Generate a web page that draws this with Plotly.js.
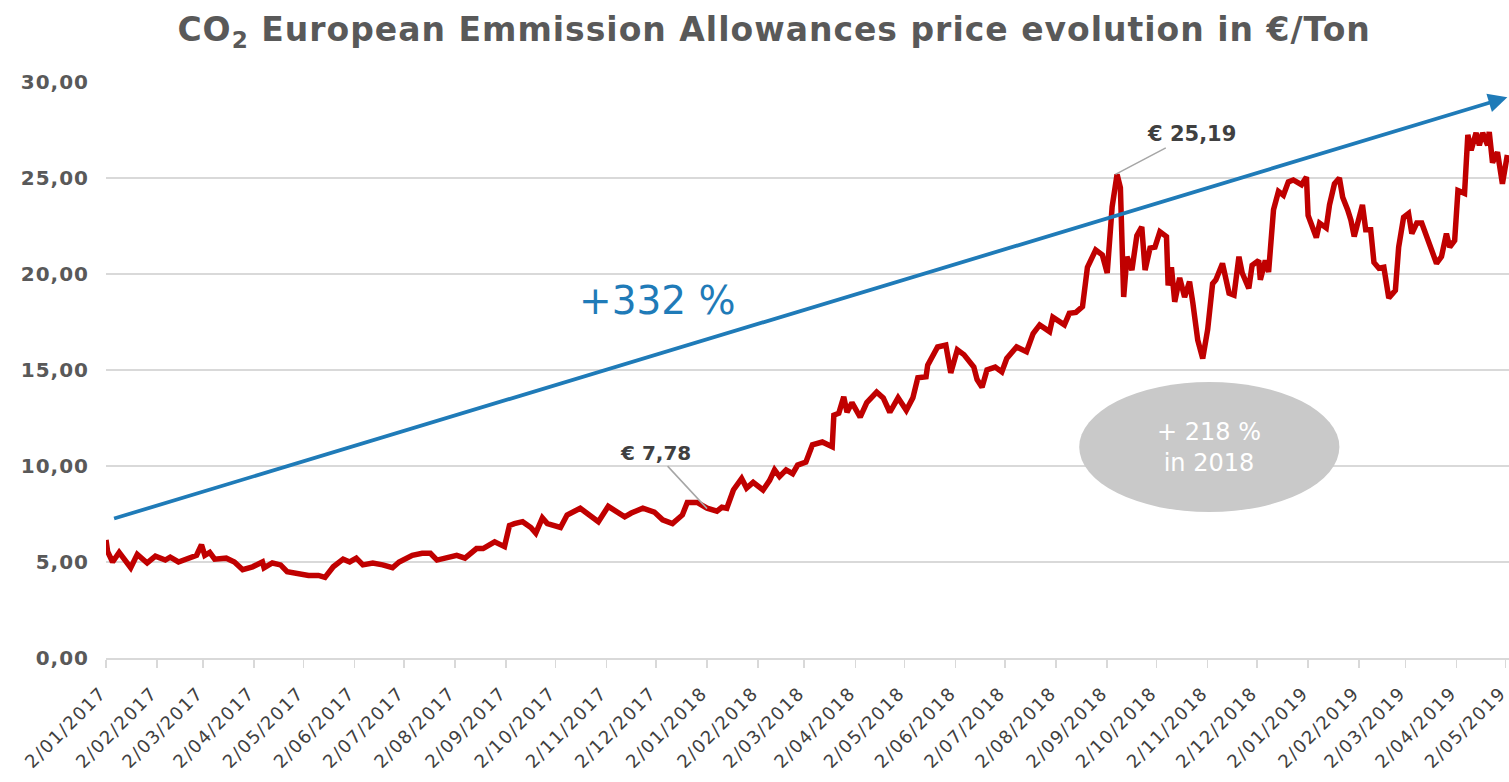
<!DOCTYPE html>
<html>
<head>
<meta charset="utf-8">
<script src="https://cdn.plot.ly/plotly-3.0.1.min.js"></script>
<style>
html,body{margin:0;padding:0;background:#fff;}
#chart{width:1509px;height:782px;}
#chart .xtick text{letter-spacing:1.5px;}
#chart .ytick text{letter-spacing:1px;}
#chart .gtitle{letter-spacing:1px;}
</style>
</head>
<body>
<div id="chart"></div>
<script>
// Days since 2 Jan 2017
const dayOffsets = [0,1,4,8,15,19,25,30,36,39,44,51,55,58,60,63,66,73,78,83,89,95,96,101,106,110,118,123,129,133,138,144,148,152,156,162,168,174,178,186,192,197,201,207,213,218,225,229,236,242,245,248,253,258,261,265,268,276,280,288,293,299,305,309,315,319,326,333,338,344,350,353,359,365,371,374,377,381,386,389,393,399,403,406,409,413,417,420,425,429,435,441,442,445,448,450,453,458,462,468,472,476,481,486,490,493,498,499,505,510,513,517,521,527,529,532,535,540,544,547,553,559,563,567,573,575,582,585,589,593,596,601,605,608,611,614,616,618,620,623,626,629,631,634,637,640,644,645,647,649,652,655,658,660,663,666,669,672,674,678,682,685,688,690,694,696,700,701,704,706,709,712,715,718,721,726,729,730,733,735,737,741,743,746,749,751,754,756,758,761,763,765,768,770,773,776,779,783,785,788,791,793,796,799,803,808,811,814,816,819,821,825,827,829,832,834,836,839,840,842,845,848,851];
const prices = [6.15,5.54,5.0,5.5,4.7,5.4,4.95,5.3,5.1,5.25,5.0,5.2,5.35,5.9,5.35,5.5,5.15,5.2,5.0,4.6,4.75,5.0,4.7,4.95,4.85,4.5,4.4,4.3,4.3,4.2,4.75,5.15,5.0,5.2,4.85,4.95,4.85,4.7,5.0,5.35,5.45,5.45,5.1,5.2,5.35,5.2,5.7,5.7,6.05,5.8,6.9,7.0,7.1,6.8,6.5,7.3,7.0,6.8,7.45,7.8,7.45,7.1,7.9,7.7,7.35,7.55,7.8,7.6,7.2,7.0,7.45,8.1,8.1,7.8,7.65,7.85,7.8,8.75,9.35,8.85,9.15,8.75,9.25,9.8,9.45,9.8,9.6,10.05,10.2,11.1,11.25,11.0,12.65,12.75,13.6,12.8,13.3,12.55,13.3,13.85,13.55,12.8,13.55,12.9,13.55,14.6,14.65,15.25,16.2,16.3,14.85,16.05,15.8,15.15,14.5,14.1,15.0,15.15,14.9,15.6,16.2,15.95,16.9,17.35,17.0,17.75,17.35,17.95,18.0,18.3,20.35,21.25,21.0,20.05,23.5,25.19,24.5,18.8,20.9,20.2,22.0,22.45,20.2,21.35,21.4,22.2,21.95,19.4,20.35,18.55,19.8,18.8,19.6,18.5,16.55,15.6,17.1,19.5,19.7,20.55,19.0,18.9,20.9,20.05,19.25,20.45,20.7,19.7,20.7,20.1,23.35,24.3,24.1,24.8,24.9,24.65,25.05,23.05,22.45,21.9,22.65,22.4,23.6,24.7,25.0,24.0,23.35,22.8,21.95,22.8,23.6,22.3,22.3,20.6,20.3,20.35,18.75,19.15,21.4,22.95,23.15,22.1,22.65,22.65,21.75,20.55,20.9,22.1,21.4,21.75,24.35,24.2,27.25,26.45,27.35,26.7,27.35,26.7,27.4,25.8,26.35,24.7,26.2];

const xTickDates = ['2017-01-02','2017-02-02','2017-03-02','2017-04-02','2017-05-02','2017-06-02','2017-07-02','2017-08-02','2017-09-02','2017-10-02','2017-11-02','2017-12-02','2018-01-02','2018-02-02','2018-03-02','2018-04-02','2018-05-02','2018-06-02','2018-07-02','2018-08-02','2018-09-02','2018-10-02','2018-11-02','2018-12-02','2019-01-02','2019-02-02','2019-03-02','2019-04-02','2019-05-02'];
const xTickLabels = ['2/01/2017','2/02/2017','2/03/2017','2/04/2017','2/05/2017','2/06/2017','2/07/2017','2/08/2017','2/09/2017','2/10/2017','2/11/2017','2/12/2017','2/01/2018','2/02/2018','2/03/2018','2/04/2018','2/05/2018','2/06/2018','2/07/2018','2/08/2018','2/09/2018','2/10/2018','2/11/2018','2/12/2018','2/01/2019','2/02/2019','2/03/2019','2/04/2019','2/05/2019'];
const yTickVals = [0,5,10,15,20,25,30];
const yTickLabels = ['0,00','5,00','10,00','15,00','20,00','25,00','30,00'];

// Annotated points and trend
const lowLabel = {date:'2018-01-02', value:7.78, text:'€ 7,78'};
const peakLabel = {date:'2018-09-07', value:25.19, text:'€ 25,19'};
const trendStart = {date:'2017-01-06', value:7.24};
const trendEnd = {date:'2019-05-03', value:29.2};
const trendText = '+332 %';
const bubbleText = '+ 218 %<br>in 2018';

const base = Date.UTC(2017,0,2);
const dates = dayOffsets.map(d => new Date(base + d*86400000).toISOString().slice(0,10));

const font = 'DejaVu Sans, Verdana, sans-serif';

const trace = {
  x: dates, y: prices, type:'scatter', mode:'lines',
  line:{color:'#C00000', width:5.5, shape:'linear'},
  hoverinfo:'skip'
};

const layout = {
  width:1509, height:782,
  margin:{l:106, r:0, t:82, b:124},
  paper_bgcolor:'#fff', plot_bgcolor:'#fff',
  showlegend:false,
  title:{text:'CO<sub>2</sub> European Emmission Allowances price evolution in €/Ton',
         font:{family:font, size:33, color:'#595959', weight:'bold'},
         x:0.513, xanchor:'center', y:0.962, yanchor:'middle'},
  xaxis:{type:'date', range:['2017-01-02','2019-05-04'],
         tickvals:xTickDates, ticktext:xTickLabels, tickangle:-45,
         tickfont:{family:font, size:18, color:'#404040'},
         ticklabeloverflow:'allow', ticklabelstandoff:8, ticklabelshift:-5,
         showgrid:false, zeroline:false,
         showline:true, linecolor:'#D9D9D9', linewidth:1.5,
         ticks:'outside', ticklen:8, tickcolor:'#D9D9D9', tickwidth:1.5},
  yaxis:{range:[0,30], tickvals:yTickVals, ticktext:yTickLabels,
         tickfont:{family:font, size:20, color:'#595959', weight:'bold'},
         showgrid:true, gridcolor:'#D9D9D9', gridwidth:1.5,
         zeroline:false, showline:false, ticks:'', ticklabelstandoff:16},
  shapes:[
    {type:'circle', xref:'x', yref:'y', x0:'2018-08-16', x1:'2019-01-21', y0:7.6, y1:14.375,
     fillcolor:'#C9C9C9', line:{width:0}, layer:'above'}
  ],
  annotations:[
    {x:trendEnd.date, y:trendEnd.value, ax:trendStart.date, ay:trendStart.value,
     axref:'x', ayref:'y', xref:'x', yref:'y', text:'', showarrow:true,
     arrowhead:2, arrowsize:1, arrowwidth:3.8, arrowcolor:'#1F7BB8'},
    {x:'2017-12-03', y:18.6, xref:'x', yref:'y', text:trendText, showarrow:false,
     font:{family:font, size:39, color:'#1F7BB8'}},
    {x:lowLabel.date, y:lowLabel.value, xref:'x', yref:'y', text:lowLabel.text,
     showarrow:true, arrowhead:0, arrowwidth:1.5, arrowcolor:'#A6A6A6',
     ax:-52, ay:-56, standoff:0,
     font:{family:font, size:20, color:'#404040', weight:'bold'}},
    {x:peakLabel.date, y:peakLabel.value, xref:'x', yref:'y', text:peakLabel.text,
     showarrow:true, arrowhead:0, arrowwidth:1.5, arrowcolor:'#A6A6A6',
     ax:76, ay:-40, standoff:0,
     font:{family:font, size:21, color:'#404040', weight:'bold'}},
    {x:'2018-11-03', y:10.95, xref:'x', yref:'y', text:bubbleText, showarrow:false,
     align:'center', font:{family:font, size:24, color:'#FFFFFF'}}
  ]
};

Plotly.newPlot('chart', [trace], layout, {displayModeBar:false, staticPlot:true});
</script>
</body>
</html>
